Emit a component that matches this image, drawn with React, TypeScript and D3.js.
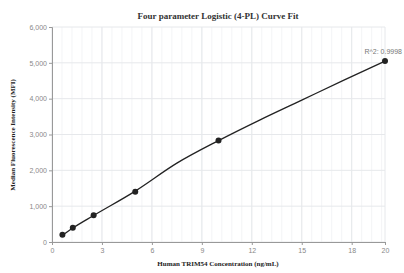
import React from 'react';
import * as d3 from 'd3';

// measured standards
const concentrations = [0.625, 1.25, 2.5, 5, 10, 20];
const mfiValues = [200, 400, 750, 1400, 2830, 5050];

// fitted curve
const curveX = [0.625, 1.25, 2.5, 5, 7.5, 10, 12.5, 15, 17.5, 20];
const curveY = [190, 390, 740, 1420, 2200, 2830, 3410, 3960, 4510, 5050];

const xTicks = [0, 3, 6, 9, 12, 15, 18, 20];
const yTicks = [0, 1000, 2000, 3000, 4000, 5000, 6000];
const rSquared = 'R^2: 0.9998';

const App = () => {
  const svgRef = React.useRef<SVGSVGElement>(null);

  const W = 404;
  const H = 273;
  const margin = { top: 27, right: 19, bottom: 31, left: 52 };
  const width = W - margin.left - margin.right;
  const height = H - margin.top - margin.bottom;

  React.useEffect(() => {
    const svgEl = d3.select(svgRef.current);
    svgEl.selectAll('*').remove();

    const svg = svgEl.append('g').attr('transform', `translate(${margin.left},${margin.top})`);

    const x = d3.scaleLinear().domain([0, 20]).range([0, width]);
    const y = d3.scaleLinear().domain([0, 6000]).range([height, 0]);

    // minor vertical grid
    const minor = d3.range(0, 20.001, 0.6).filter((v) => v <= 20);
    svg.append('g')
      .selectAll('line')
      .data(minor)
      .enter()
      .append('line')
      .attr('x1', (d) => x(d))
      .attr('x2', (d) => x(d))
      .attr('y1', 0)
      .attr('y2', height)
      .attr('stroke', '#f3f4f6')
      .attr('stroke-width', 1);

    // major grid
    svg.append('g')
      .selectAll('line')
      .data(xTicks)
      .enter()
      .append('line')
      .attr('x1', (d) => x(d))
      .attr('x2', (d) => x(d))
      .attr('y1', 0)
      .attr('y2', height)
      .attr('stroke', '#e6e8eb');

    svg.append('g')
      .selectAll('line')
      .data(yTicks)
      .enter()
      .append('line')
      .attr('x1', 0)
      .attr('x2', width)
      .attr('y1', (d) => y(d))
      .attr('y2', (d) => y(d))
      .attr('stroke', '#e6e8eb');

    // axes
    const xAxis = svg.append('g')
      .attr('transform', `translate(0,${height})`)
      .call(d3.axisBottom(x).tickValues(xTicks).tickSize(3).tickPadding(3));
    const yAxis = svg.append('g')
      .call(d3.axisLeft(y).tickValues(yTicks).tickSize(3).tickPadding(2).tickFormat(d3.format(',')));

    [xAxis, yAxis].forEach((a) => {
      a.select('.domain').attr('stroke', '#999');
      a.selectAll('.tick line').attr('stroke', '#999');
      a.selectAll('.tick text')
        .attr('fill', '#888')
        .style('font-family', 'Arial, "Liberation Sans", sans-serif')
        .style('font-size', '7px');
    });

    // fitted curve
    const line = d3.line<number>()
      .x((d, i) => x(curveX[i]))
      .y((d) => y(d))
      .curve(d3.curveMonotoneX);

    svg.append('path')
      .datum(curveY)
      .attr('d', line)
      .attr('fill', 'none')
      .attr('stroke', '#222')
      .attr('stroke-width', 1.3);

    svg.append('g')
      .selectAll('circle')
      .data(concentrations)
      .enter()
      .append('circle')
      .attr('cx', (d) => x(d))
      .attr('cy', (d, i) => y(mfiValues[i]))
      .attr('r', 3)
      .attr('fill', '#222');

    svg.append('text')
      .attr('x', x(20) + 17)
      .attr('y', y(mfiValues[mfiValues.length - 1]) - 7)
      .style('text-anchor', 'end')
      .style('font-family', 'Arial, "Liberation Sans", sans-serif')
      .style('font-size', '7px')
      .attr('fill', '#777')
      .text(rSquared);

    // titles
    svgEl.append('text')
      .attr('x', 218)
      .attr('y', 19)
      .style('text-anchor', 'middle')
      .style('font-family', '"Liberation Serif", "Times New Roman", serif')
      .style('font-weight', 'bold')
      .style('font-size', '9px')
      .attr('fill', '#333')
      .text('Four parameter Logistic (4-PL) Curve Fit');

    svgEl.append('text')
      .attr('x', 218)
      .attr('y', 266)
      .style('text-anchor', 'middle')
      .style('font-family', '"Liberation Serif", "Times New Roman", serif')
      .style('font-weight', 'bold')
      .style('font-size', '7px')
      .attr('fill', '#222')
      .text('Human TRIM54 Concentration (ng/mL)');

    svgEl.append('text')
      .attr('transform', 'translate(15,135) rotate(-90)')
      .style('text-anchor', 'middle')
      .style('font-family', '"Liberation Serif", "Times New Roman", serif')
      .style('font-weight', 'bold')
      .style('font-size', '7px')
      .attr('fill', '#222')
      .text('Median Fluorescence Intensity (MFI)');

  // eslint-disable-next-line react-hooks/exhaustive-deps
  }, []);

  return (
    <svg
      ref={svgRef}
      width={W}
      height={H}
      style={{ position: 'absolute', left: 0, top: 0, background: '#fff' }}
    />
  );
};

export default App;
